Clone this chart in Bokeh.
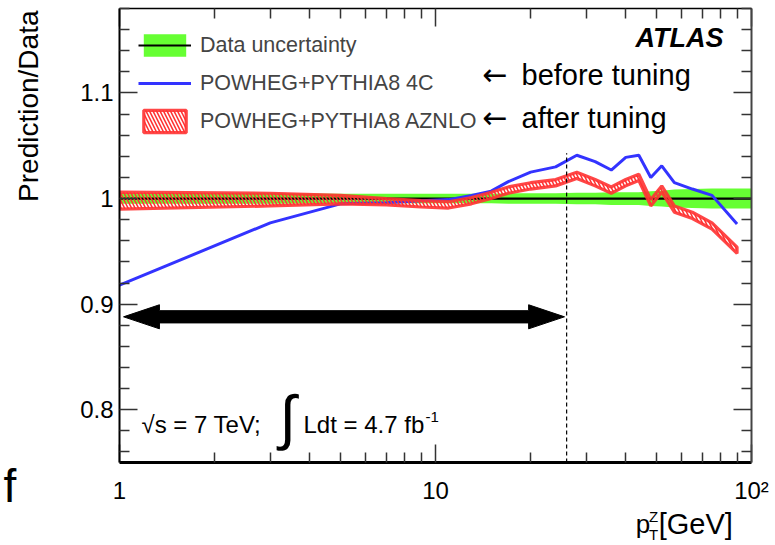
import math
from bokeh.plotting import figure
from bokeh.layouts import row, column
from bokeh.models import (FixedTicker, LogAxis, LinearAxis, Label, Legend, LegendItem,
                          CustomJSTickFormatter, Range1d, ColumnDataSource)
from bokeh.embed import file_html
from bokeh.resources import INLINE

# ---------------- data ----------------
pt_centers = [1, 3, 5, 7, 9, 11, 13, 15, 17, 20, 24, 28, 32, 36, 40, 44, 48, 52, 57, 65, 75, 90]
powheg_4c = [0.918, 0.977, 0.995, 0.996, 0.998, 0.999, 1.003, 1.007, 1.016, 1.025, 1.030,
             1.041, 1.035, 1.027, 1.039, 1.041, 1.020, 1.031, 1.015, 1.009, 1.003, 0.976]
aznlo_center = [0.998, 0.999, 0.999, 0.997, 0.995, 0.994, 0.998, 1.003, 1.008, 1.012, 1.015,
                1.022, 1.015, 1.008, 1.015, 1.020, 0.996, 1.009, 0.990, 0.984, 0.974, 0.951]
aznlo_halfwidth = [0.008, 0.006, 0.004, 0.003, 0.003, 0.003, 0.003, 0.003, 0.003, 0.003, 0.003,
                   0.003, 0.003, 0.003, 0.003, 0.003, 0.003, 0.003, 0.003, 0.003, 0.003, 0.003]
pt_data = [1, 3, 5, 7, 9, 11, 13, 15, 17, 20, 24, 28, 32, 36, 40, 44, 48, 52, 57, 65, 75, 90, 100]
data_ratio = [1.0] * len(pt_data)
data_uncertainty = [0.005, 0.005, 0.0045, 0.0045, 0.0045, 0.0045, 0.0045, 0.0045, 0.005, 0.005,
                    0.005, 0.0055, 0.0055, 0.006, 0.006, 0.006, 0.007, 0.0075, 0.0085, 0.009,
                    0.0095, 0.0095, 0.0095]
tuned_range_pt = [1.03, 25.6]   # fit range arrow
tuned_range_y = 0.888
dashed_pt = 26
dashed_top = 1.043

x_major = [1, 10, 100]
x_minor = [2, 3, 4, 5, 6, 7, 8, 9, 20, 30, 40, 50, 60, 70, 80, 90]
y_major = [0.8, 0.9, 1.0, 1.1]
y_minor = [0.76, 0.78, 0.82, 0.84, 0.86, 0.88, 0.92, 0.94, 0.96, 0.98,
           1.02, 1.04, 1.06, 1.08, 1.12, 1.14, 1.16, 1.18]

FONT = "Liberation Sans"
GREEN = "#66ff33"
RED = "#ff3333"
BLUE = "#3333ff"

W, H = 775, 545
LEFT_W = 60          # strip on the left for the y title
MAIN_H = 508         # main figure height; strip below holds the x title
# frame geometry in page pixels
FL, FR, FT, FB = 119, 751, 8, 462
BASE_SHIFT = 0.37    # Label 'alphabetic' anchor sits this many em above the drawn baseline

p = figure(width=W - LEFT_W, height=MAIN_H, x_axis_type="log",
           x_range=Range1d(1, 100), y_range=Range1d(0.75, 1.18),
           output_backend="svg", toolbar_location=None,
           min_border_left=FL - LEFT_W, min_border_right=W - FR,
           min_border_top=FT, min_border_bottom=MAIN_H - FB)
p.outline_line_color = None
p.grid.visible = False
p.background_fill_color = "white"
p.border_fill_color = "white"

# ---------------- glyphs ----------------
lower_d = [r - e for r, e in zip(data_ratio, data_uncertainty)]
upper_d = [r + e for r, e in zip(data_ratio, data_uncertainty)]
green_r = p.varea(x=pt_data, y1=lower_d, y2=upper_d, fill_color=GREEN, fill_alpha=1.0)
black_r = p.line(x=pt_data, y=data_ratio, line_color="black", line_width=2.2)

blue_r = p.line(x=pt_centers, y=powheg_4c, line_color=BLUE, line_width=3)

upper_r = [c + h for c, h in zip(aznlo_center, aznlo_halfwidth)]
lower_r = [c - h for c, h in zip(aznlo_center, aznlo_halfwidth)]
red_src = ColumnDataSource(dict(x=pt_centers + pt_centers[::-1], y=upper_r + lower_r[::-1]))
red_r = p.patch(x="x", y="y", source=red_src, fill_color=None,
                hatch_pattern="\\", hatch_color=RED, hatch_scale=7, hatch_weight=1.6,
                line_color=RED, line_width=3.2, line_alpha=0.9)

# dashed line at the end of the tuning range
p.segment(x0=[dashed_pt], y0=[0.75], x1=[dashed_pt], y1=[dashed_top],
          line_color="black", line_width=1.2, line_dash="4 3")

# double-headed arrow (fit range)
hl = 36 / 317.0       # head length in decades
hw = 0.0114           # head half-height
sw = 0.0058           # shaft half-height
a0, a1 = math.log10(tuned_range_pt[0]), math.log10(tuned_range_pt[1])
yy = tuned_range_y
ax = [a0, a0 + hl, a0 + hl, a1 - hl, a1 - hl, a1, a1 - hl, a1 - hl, a0 + hl, a0 + hl]
ay = [yy, yy + hw, yy + sw, yy + sw, yy + hw, yy, yy - hw, yy - sw, yy - sw, yy - hw]
p.patch(x=[10 ** v for v in ax], y=ay, fill_color="black", line_color="black", line_width=1)

# ---------------- axes ----------------
def style_axis(ax_, width, color="black"):
    ax_.axis_line_width = width
    ax_.axis_line_color = color
    ax_.major_tick_in = 18
    ax_.major_tick_out = 0
    ax_.minor_tick_in = 10
    ax_.minor_tick_out = 0
    ax_.major_tick_line_color = "#333333"
    ax_.minor_tick_line_color = "#333333"
    ax_.major_tick_line_width = 1.5
    ax_.minor_tick_line_width = 1.5
    ax_.major_label_text_font = FONT
    ax_.major_label_text_color = "black"

xt = FixedTicker(ticks=x_major, minor_ticks=x_minor)
yt = FixedTicker(ticks=y_major, minor_ticks=y_minor)

xb = p.xaxis[0]
xb.ticker = xt
style_axis(xb, 3)
xb.major_label_text_font_size = "24px"
xb.major_label_standoff = 14
xb.formatter = CustomJSTickFormatter(code="return tick == 100 ? '10\u00b2' : String(tick);")

yl = p.yaxis[0]
yl.ticker = yt
style_axis(yl, 2)
yl.major_label_text_font_size = "24px"
yl.major_label_standoff = 6
yl.formatter = CustomJSTickFormatter(code="return Math.abs(tick - 1) < 1e-9 ? '1' : tick.toFixed(1);")

blank = CustomJSTickFormatter(code="return '';")
xtop = LogAxis(ticker=xt, formatter=blank, major_label_text_font_size="0px", major_label_standoff=0)
style_axis(xtop, 1.5)
p.add_layout(xtop, "above")
yr = LinearAxis(ticker=yt, formatter=blank, major_label_text_font_size="0px", major_label_standoff=0)
style_axis(yr, 2, "#444444")
p.add_layout(yr, "right")

# ---------------- legend ----------------
legend = Legend(items=[
    LegendItem(label="Data uncertainty", renderers=[green_r, black_r]),
    LegendItem(label="POWHEG+PYTHIA8 4C", renderers=[blue_r]),
    LegendItem(label="POWHEG+PYTHIA8 AZNLO", renderers=[red_r]),
], location=(19, 327), glyph_width=53, glyph_height=28, label_height=28,
    label_standoff=9, spacing=10, padding=0, margin=0,
    border_line_color=None, background_fill_alpha=0,
    label_text_font=FONT, label_text_font_size="21.5px")
p.add_layout(legend)

# ---------------- texts inside the frame ----------------
def txt(text, X, Ybase, size, align="left", style="normal", font=FONT):
    ya = Ybase - BASE_SHIFT * size
    p.add_layout(Label(x=X - FL, y=FB - ya, x_units="screen", y_units="screen",
                       text=text, text_font=font, text_font_size=f"{size}px",
                       text_font_style=style, text_align=align, text_baseline="alphabetic",
                       text_color="black"))

txt("ATLAS", 723, 47, 27, align="right", style="bold italic")
txt("\u2190", 482, 85, 30, font="DejaVu Sans")
txt("before tuning", 521, 85, 29)
txt("\u2190", 482, 128, 30, font="DejaVu Sans")
txt("after tuning", 521, 128, 29)

txt("\u221as = 7 TeV;", 141, 433, 24)
txt("\u222b", 279, 439, 60)
txt("Ldt = 4.7 fb", 303, 433, 24)
txt("-1", 425, 422, 15)

# ---------------- side strips (texts outside the frame) ----------------
def strip(x0, y0, w, h):
    f = figure(width=w, height=h, x_range=Range1d(x0, x0 + w),
               y_range=Range1d(H - (y0 + h), H - y0),
               output_backend="svg", toolbar_location=None, min_border=0,
               x_axis_location=None, y_axis_location=None)
    f.outline_line_color = None
    f.grid.visible = False
    f.background_fill_color = "white"
    f.border_fill_color = "white"
    return f

def stxt(f, text, X, Ybase, size, vertical=False, align="left"):
    if vertical:
        xa, ya, ang = X - BASE_SHIFT * size, Ybase, math.pi / 2
    else:
        xa, ya, ang = X, Ybase - BASE_SHIFT * size, 0.0
    f.add_layout(Label(x=xa, y=H - ya, text=text, text_font=FONT,
                       text_font_size=f"{size}px", text_align=align,
                       text_baseline="alphabetic", text_color="black", angle=ang))

left = strip(0, 0, LEFT_W, H)
stxt(left, "Prediction/Data", 38, 10, 28, vertical=True, align="right")
stxt(left, "f", 3, 503, 46)

bottom = strip(LEFT_W, MAIN_H, W - LEFT_W, H - MAIN_H)
stxt(bottom, "p", 644, 533, 26)
stxt(bottom, "Z", 659, 522, 15)
stxt(bottom, "T", 659, 540, 15)
stxt(bottom, "[GeV]", 670, 534, 29)

page = row(left, column(p, bottom, spacing=0), spacing=0)
open("out.html", "w").write(file_html(page, INLINE))
